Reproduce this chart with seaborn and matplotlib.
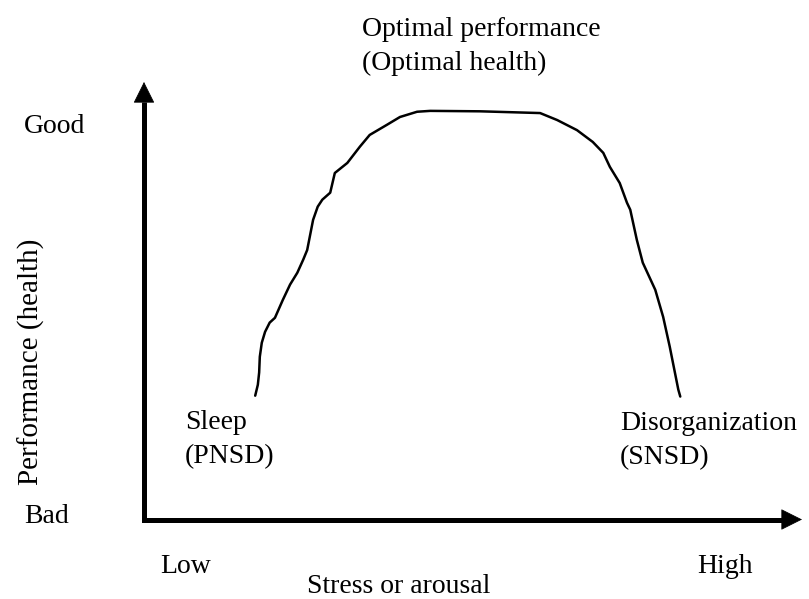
import numpy as np
import pandas as pd
import matplotlib
matplotlib.use("Agg")
import matplotlib.pyplot as plt
import seaborn as sns

# Inverted-U curve (stress 0-100 vs performance 0-100)
stress = [16.9, 17.3, 17.5, 17.6, 17.9, 18.4, 19.1, 19.9, 21.1, 22.2,
          23.3, 24.2, 24.8, 25.7, 26.4, 27.1, 28.3, 29.0, 30.9, 32.8,
          34.3, 36.9, 38.9, 41.5, 43.5, 51.1, 60.2, 62.8, 65.8, 68.2,
          69.8, 70.8, 72.3, 73.4, 73.9, 74.9, 75.8, 77.7, 78.9, 79.9,
          81.2, 81.5]
performance = [28.3, 30.8, 33.6, 37.2, 40.4, 42.9, 45.0, 46.1, 50.2, 53.7,
               56.4, 59.4, 61.6, 68.5, 71.5, 73.1, 74.7, 79.2, 81.5, 85.2,
               87.9, 90.2, 92.0, 93.2, 93.4, 93.3, 92.9, 91.3, 89.0, 86.3,
               83.8, 80.6, 76.9, 72.4, 70.8, 63.9, 58.7, 52.5, 46.3, 39.5,
               29.7, 28.1]

top_labels = ["Optimal performance", "(Optimal health)"]
left_labels = ["Sleep", "(PNSD)"]
right_labels = ["Disorganization", "(SNSD)"]
y_ticks = ["Good", "Bad"]
x_ticks = ["Low", "High"]
x_title = "Stress or arousal"
y_title = "Performance (health)"

df = pd.DataFrame({"stress": stress, "performance": performance})

sns.set_theme(style="white")
plt.rcParams["font.family"] = ["Liberation Serif", "DejaVu Serif"]

W, H = 809, 599
fig = plt.figure(figsize=(W / 100, H / 100), dpi=100)
fig.patch.set_facecolor("white")

# axes box goes from the axis corner to the arrow tips
x0, y0, x1, y1 = 144, 519.5, 802, 82
ax = fig.add_axes([x0 / W, (H - y0) / H, (x1 - x0) / W, (y0 - y1) / H])
ax.set_xlim(0, 100)
ax.set_ylim(0, 100)
ax.axis("off")

# the curve
sns.lineplot(data=df, x="stress", y="performance", sort=False,
             estimator=None, color="black", linewidth=1.8, ax=ax)

# L-shaped axes with arrow heads
hx = 20 / (x1 - x0) * 100
hy = 20 / (y0 - y1) * 100
ax.plot([0, 0, 100 - hx], [100 - hy, 0, 0], color="black", lw=3.6,
        solid_joinstyle="miter", solid_capstyle="butt", clip_on=False)
head = dict(arrowstyle="-|>,head_length=1.0,head_width=0.5",
            mutation_scale=14, color="black", lw=0.5,
            shrinkA=0, shrinkB=0)
ax.annotate("", xy=(0, 100), xytext=(0, 100 - hy), arrowprops=head,
            annotation_clip=False)
ax.annotate("", xy=(100, 0), xytext=(100 - hx, 0), arrowprops=head,
            annotation_clip=False)


def put(px, py, s, size=20, **kw):
    fig.text(px / W, 1 - py / H, s, fontsize=size, color="black", **kw)


put(362, 36, top_labels[0], va="baseline")
put(362, 70, top_labels[1], va="baseline")
put(185, 429, left_labels[0], va="baseline")
put(185, 463, left_labels[1], va="baseline")
put(620, 430, right_labels[0], va="baseline")
put(620, 464, right_labels[1], va="baseline")
put(24, 133, y_ticks[0], va="baseline")
put(24, 523, y_ticks[1], va="baseline")
put(160, 573, x_ticks[0], va="baseline")
put(697, 573, x_ticks[1], va="baseline")
put(307, 593, x_title, va="baseline")
put(31, 362, y_title, size=21, va="center", ha="center", rotation=90)

fig.savefig("out.png", dpi=100)
